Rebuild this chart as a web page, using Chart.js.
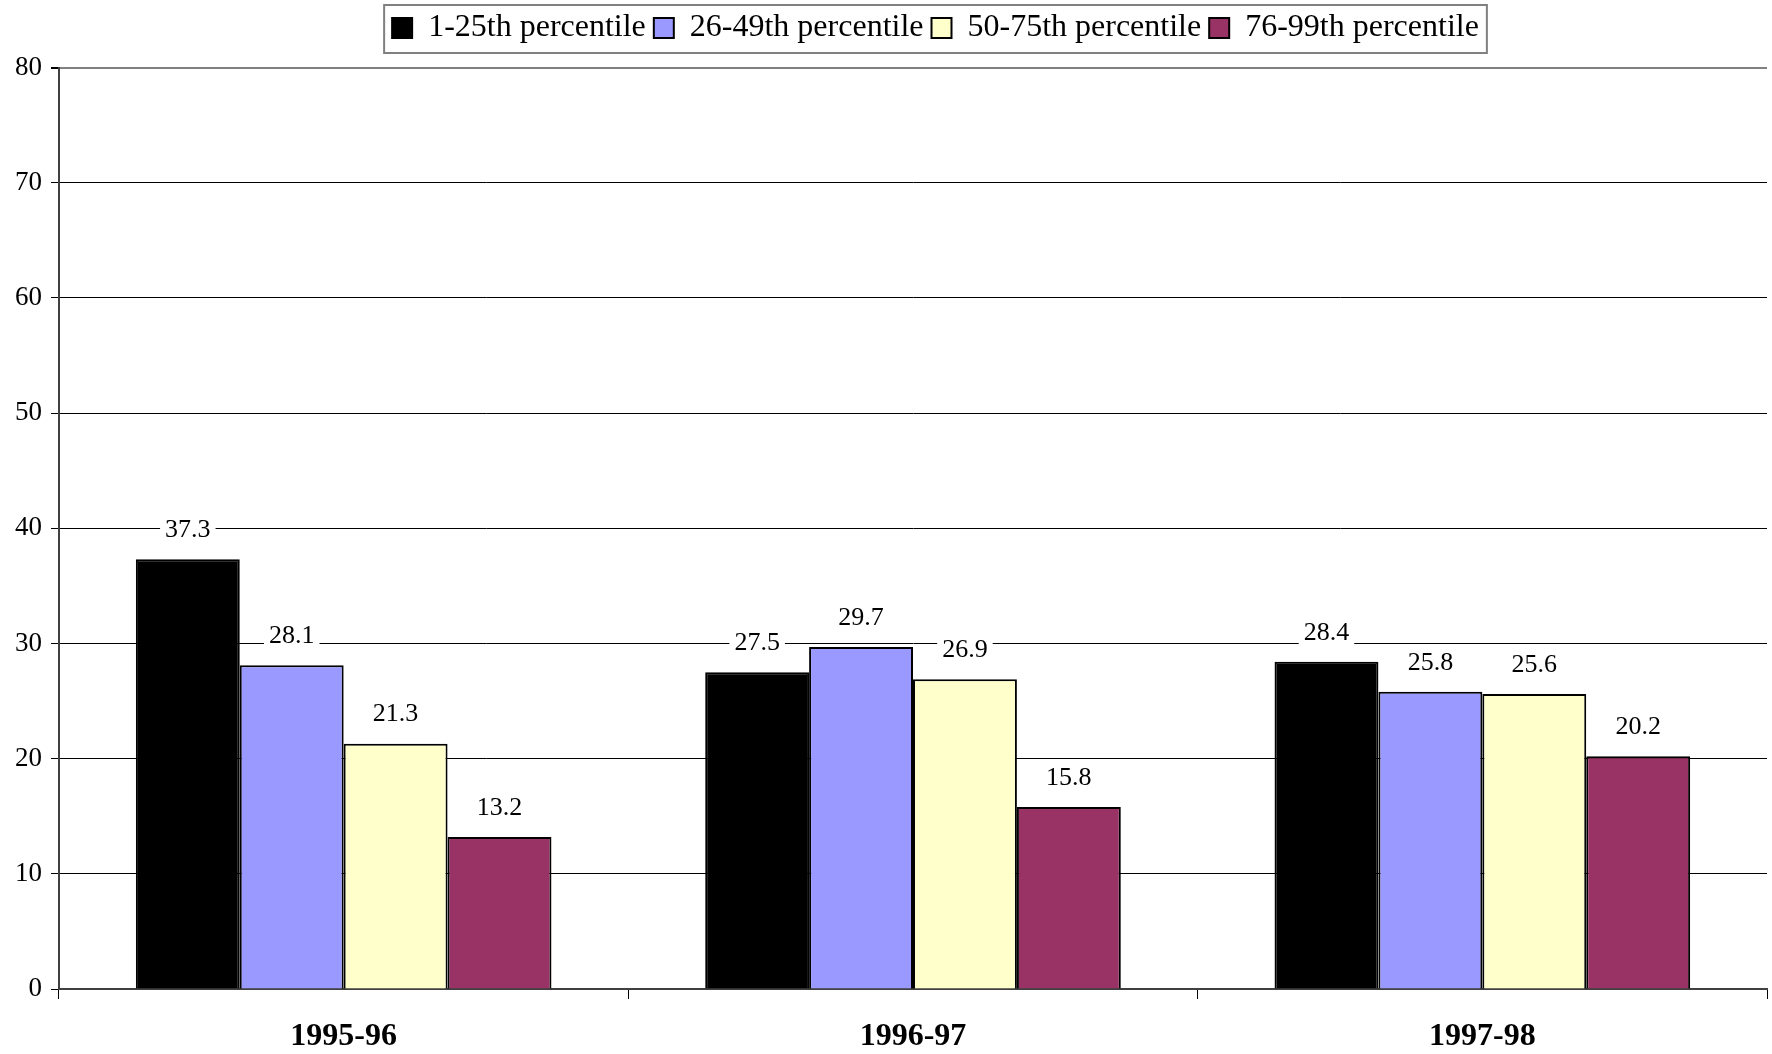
<!DOCTYPE html>
<html>
<head>
<meta charset="utf-8">
<script src="https://cdn.jsdelivr.net/npm/chart.js@4.4.0/dist/chart.umd.min.js"></script>
<style>
  html, body { margin:0; padding:0; background:#fff; }
  #wrap { width:1772px; height:1054px; }
</style>
</head>
<body>
<div id="wrap"><canvas id="chart" width="1772" height="1054"></canvas></div>
<script>
// --------------------
// DATA
// --------------------
const years = ['1995-96', '1996-97', '1997-98'];
const seriesNames = ['1-25th percentile', '26-49th percentile', '50-75th percentile', '76-99th percentile'];
const p1to25  = [37.3, 27.5, 28.4];
const p26to49 = [28.1, 29.7, 25.8];
const p50to75 = [21.3, 26.9, 25.6];
const p76to99 = [13.2, 15.8, 20.2];
const barColors = ['#000000', '#9999FF', '#FFFFCC', '#993366'];

const FONT = '"Liberation Serif", "Times New Roman", serif';

// white-backed value labels above each bar
const valueLabels = {
  id: 'valueLabels',
  afterDatasetsDraw(chart){
    const ctx = chart.ctx;
    ctx.save();
    ctx.font = '26px ' + FONT;
    ctx.textAlign = 'center';
    ctx.textBaseline = 'middle';
    chart.data.datasets.forEach((ds, i) => {
      chart.getDatasetMeta(i).data.forEach((bar, j) => {
        const txt = ds.data[j].toFixed(1);
        const w = ctx.measureText(txt).width;
        const y = bar.y - 29;
        ctx.fillStyle = '#fff';
        ctx.fillRect(bar.x - w/2 - 5, y - 13, w + 10, 26);
        ctx.fillStyle = '#000';
        ctx.fillText(txt, bar.x, y);
      });
    });
    ctx.restore();
  }
};

// legend sits a bit right of centre in the original, with a grey frame
const LEGEND_SHIFT = 52;
const legendFrame = {
  id: 'legendFrame',
  beforeDraw(chart){
    const lg = chart.legend;
    if(!lg) return;
    lg.left += LEGEND_SHIFT;
    lg.right += LEGEND_SHIFT;
    lg.adjustHitBoxes();
  },
  afterDraw(chart){
    const lg = chart.legend;
    if(!lg || !lg.legendHitBoxes.length) return;
    const hb = lg.legendHitBoxes;
    const x0 = hb[0].left - 8;
    const x1 = hb[hb.length-1].left + hb[hb.length-1].width + 8;
    const ctx = chart.ctx;
    ctx.save();
    ctx.strokeStyle = '#808080';
    ctx.lineWidth = 2;
    ctx.strokeRect(x0, lg.top + 1, x1 - x0, lg.height - 2);
    ctx.restore();
    lg.left -= LEGEND_SHIFT;
    lg.right -= LEGEND_SHIFT;
  }
};

const datasets = [p1to25, p26to49, p50to75, p76to99].map((d, i) => ({
  label: seriesNames[i],
  data: d,
  backgroundColor: barColors[i],
  borderColor: '#000',
  borderWidth: 2,
  borderSkipped: 'bottom',
  categoryPercentage: 0.73,
  barPercentage: 1.0
}));

new Chart(document.getElementById('chart'), {
  type: 'bar',
  data: { labels: years, datasets },
  plugins: [valueLabels, legendFrame],
  options: {
    responsive: false,
    animation: false,
    layout: { padding: { top: 4, right: 5, left: 0, bottom: 0 } },
    plugins: {
      tooltip: { enabled: false },
      legend: {
        position: 'top',
        weight: 3000,
        labels: {
          font: { family: FONT, size: 32 },
          color: '#000',
          boxWidth: 20,
          boxHeight: 20,
          padding: 8
        }
      },
      // empty spacer between legend and plot
      subtitle: {
        display: true,
        text: ' ',
        font: { size: 1, lineHeight: 1 },
        padding: { top: 6, bottom: 6.5 }
      }
    },
    scales: {
      x: {
        afterFit(s){ s.height = 65; },
        grid: { offset: true, drawOnChartArea: false, drawTicks: true, tickLength: 10, color: '#000' },
        border: { color: '#404040', width: 2 },
        ticks: { font: { family: FONT, size: 32, weight: 'bold' }, color: '#000', padding: 19 }
      },
      y: {
        min: 0, max: 80,
        afterFit(s){ s.width = 59; },
        ticks: { stepSize: 10, font: { family: FONT, size: 27 }, color: '#000', padding: 9 },
        grid: {
          color: c => c.tick && c.tick.value === 80 ? '#808080' : '#000',
          lineWidth: c => c.tick && c.tick.value === 80 ? 2 : 1,
          tickLength: 8,
          tickColor: '#000'
        },
        border: { color: '#404040', width: 2 }
      }
    }
  }
});
</script>
</body>
</html>
